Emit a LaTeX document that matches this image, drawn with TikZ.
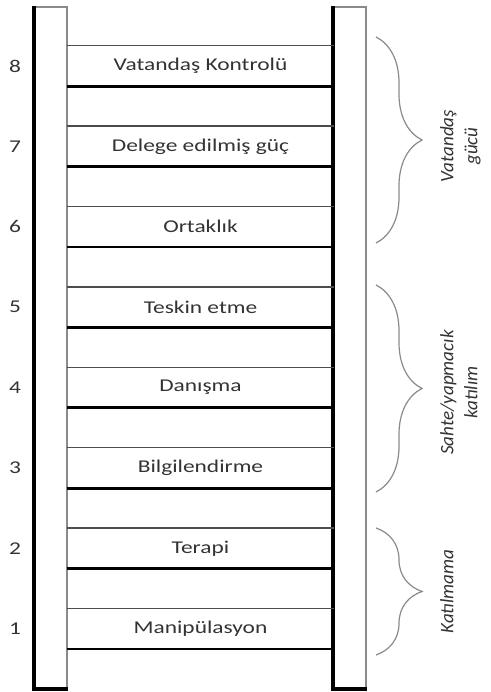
\documentclass[tikz,border=0pt]{standalone}
\usepackage{fontspec}
\setmainfont{Carlito}
\usepackage{tikz}
\usetikzlibrary{positioning,calc,decorations.pathreplacing}
\definecolor{inkgray}{HTML}{333333}
\definecolor{edgegray}{HTML}{8A8A8A}

\begin{document}
\begin{tikzpicture}[
    x=1pt, y=1pt,
    rail/.style={rectangle, draw=edgegray, line width=1.6pt, minimum width=32pt, minimum height=681pt, inner sep=0pt},
    heavy/.style={line width=3.6pt, black},
    rungtop/.style={line width=1.4pt, black!70},
    rungbot/.style={line width=2.8pt, black},
    rung/.style={rectangle, minimum width=205.4pt, minimum height=40pt, inner sep=0pt, xscale=1.3, text=inkgray, font=\fontsize{18}{20}\selectfont},
    num/.style={xscale=1.3, text=inkgray, font=\fontsize{18}{20}\selectfont},
    brace/.style={decorate, decoration={brace, amplitude=46pt}, edgegray, line width=1.2pt},
    grouplabel/.style={rotate=90, anchor=north, inner sep=0pt, align=center, text=inkgray, font=\itshape\fontsize{19}{24}\selectfont}
]
    \useasboundingbox (0,0) rectangle (490,692);

    % rails
    \node[rail] (lrail) at (51,344.5) {};
    \node[rail] (rrail) at (350,344.5) {};
    \draw[heavy] (lrail.north west) -- (lrail.south west) -- (lrail.south east);
    \draw[heavy] (rrail.north west) -- (rrail.south west) -- (rrail.south east);

    % rungs, bottom to top
    \node[rung] (r1) at (200.5,63.2) {Manipülasyon};
    \node[rung] (r2) at (200.5,143.6) {Terapi};
    \node[rung] (r3) at (200.5,224) {Bilgilendirme};
    \node[rung] (r4) at (200.5,304.4) {Danışma};
    \node[rung] (r5) at (200.5,384.8) {Teskin etme};
    \node[rung] (r6) at (200.5,465.2) {Ortaklık};
    \node[rung] (r7) at (200.5,545.6) {Delege edilmiş güç};
    \node[rung] (r8) at (200.5,626) {Vatandaş Kontrolü};

    \foreach \r in {r1,r2,r3,r4,r5,r6,r7,r8} {
        \draw[rungtop] (\r.north west) -- (\r.north east);
        \draw[rungbot] (\r.south west) -- (\r.south east);
    }

    % level numbers
    \node[num] (n1) at (15,63.2) {1};
    \node[num] (n2) at (15,143.6) {2};
    \node[num] (n3) at (15,224) {3};
    \node[num] (n4) at (15,304.4) {4};
    \node[num] (n5) at (15,384.8) {5};
    \node[num] (n6) at (15,465.2) {6};
    \node[num] (n7) at (15,545.6) {7};
    \node[num] (n8) at (15,626) {8};

    % groups
    \coordinate (g1top) at (376,655);
    \coordinate (g1bot) at (376,449);
    \coordinate (g2top) at (376,407);
    \coordinate (g2bot) at (376,200);
    \coordinate (g3top) at (376,164);
    \coordinate (g3bot) at (376,37);

    \draw[brace] (g1top) -- (g1bot);
    \draw[brace] (g2top) -- (g2bot);
    \draw[brace] (g3top) -- (g3bot);

    \node[grouplabel] (g1) at ($(g1top)!0.5!(g1bot)+(64,-6)$) {Vatandaş\\gücü};
    \node[grouplabel] (g2) at ($(g2top)!0.5!(g2bot)+(64,-4)$) {Sahte/yapmacık\\katılım};
    \node[grouplabel] (g3) at ($(g3top)!0.5!(g3bot)+(64,0)$) {Katılmama};
\end{tikzpicture}
\end{document}
